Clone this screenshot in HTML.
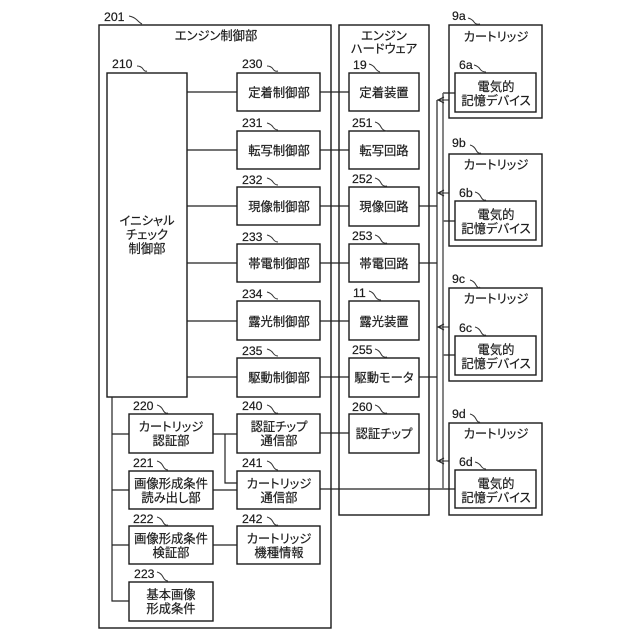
<!DOCTYPE html>
<html lang="ja">
<head>
<meta charset="utf-8">
<title>エンジン制御部</title>
<style>
html,body{margin:0;padding:0;background:#fff;}
svg{display:block;}
.b{fill:none;stroke:#1a1a1a;stroke-width:1.4;}
.l{fill:none;stroke:#222;stroke-width:1.2;}
.c{fill:none;stroke:#333;stroke-width:1;}
text{fill:#1c1c1c;stroke:#1c1c1c;stroke-width:.2;}
.j{font-family:"Liberation Sans","Noto Sans CJK JP",sans-serif;font-size:12.3px;text-anchor:middle;font-feature-settings:"palt";}
.n{font-family:"Liberation Sans",sans-serif;font-size:12.3px;}
</style>
</head>
<body>
<svg width="640" height="640" viewBox="0 0 640 640" xmlns="http://www.w3.org/2000/svg">
<rect width="640" height="640" fill="#fff"/>

<g class="b">
<rect x="99" y="25" width="232" height="603"/>
<rect x="339" y="25" width="90" height="490"/>
<rect x="107" y="73" width="80" height="324"/>

<rect x="237" y="73" width="83" height="38"/>
<rect x="237" y="131" width="83" height="38"/>
<rect x="237" y="187" width="83" height="38"/>
<rect x="237" y="244" width="83" height="38"/>
<rect x="237" y="301" width="83" height="39"/>
<rect x="237" y="358" width="83" height="39"/>
<rect x="237" y="414" width="83" height="39"/>
<rect x="237" y="471" width="83" height="38"/>
<rect x="237" y="526" width="83" height="38"/>

<rect x="129" y="414" width="84" height="39"/>
<rect x="129" y="471" width="84" height="38"/>
<rect x="129" y="526" width="84" height="38"/>
<rect x="129" y="582" width="84" height="39"/>

<rect x="349" y="73" width="70" height="38"/>
<rect x="349" y="131" width="70" height="38"/>
<rect x="349" y="187" width="70" height="39"/>
<rect x="349" y="244" width="70" height="38"/>
<rect x="349" y="301" width="70" height="39"/>
<rect x="349" y="358" width="70" height="39"/>
<rect x="349" y="414" width="70" height="39"/>

<rect x="449" y="25" width="93" height="93"/>
<rect x="449" y="154" width="93" height="92"/>
<rect x="449" y="288" width="93" height="93"/>
<rect x="449" y="423" width="93" height="92"/>
<rect x="455" y="73" width="81" height="39"/>
<rect x="455" y="201" width="81" height="39"/>
<rect x="455" y="336" width="81" height="39"/>
<rect x="455" y="470" width="81" height="38"/>
</g>

<g class="l">
<path d="M187 92H237M320 92H349"/>
<path d="M187 150H237M320 150H349"/>
<path d="M187 206H237M320 206H349M419 206H437"/>
<path d="M187 263H237M320 263H349M419 263H437"/>
<path d="M187 321H237M320 321H349"/>
<path d="M187 377H237M320 377H349M419 377H437"/>
<path d="M112 397V601H129M112 434H129M112 490H129M112 545H129"/>
<path d="M213 434H237M225 434V483H237M213 490H237M213 545H237"/>
<path d="M320 433H349M320 489H455"/>
<path d="M437 100V461"/>
<path d="M443 93H455M443 221H455M443 355H455"/>
</g>
<path d="M443 93V489" fill="none" stroke="#666" stroke-width="1.6"/>
<g fill="none" stroke="#222" stroke-width="1">
<path d="M449 100H437M444 97L438 100L444 103"/>
<path d="M449 193H437M444 190L438 193L444 196"/>
<path d="M449 327H437M444 324L438 327L444 330"/>
<path d="M449 461H437M444 458L438 461L444 464"/>
</g>

<g class="c">
<path d="M129 16Q134 17 137 20T142 24"/>
<path d="M137 66Q141 66 143 69T147 71"/>
<path d="M267 66Q271 66 273 69T278 71"/>
<path d="M267 123Q271 124 273 127T278 130"/>
<path d="M267 178Q271 179 273 182T278 185"/>
<path d="M267 235Q271 236 273 239T278 242"/>
<path d="M267 292Q271 293 273 296T278 299"/>
<path d="M267 349Q271 350 273 353T278 356"/>
<path d="M369 64Q373 65 375 68T380 72"/>
<path d="M375 122Q379 123 381 127T387 131"/>
<path d="M375 178Q379 179 381 183T387 186"/>
<path d="M375 235Q379 236 381 240T387 243"/>
<path d="M369 291Q373 292 375 296T381 300"/>
<path d="M375 349Q379 350 381 354T387 357"/>
<path d="M375 405Q379 406 381 410T387 413"/>
<path d="M468 18Q472 19 474 22T480 24"/>
<path d="M474 65Q478 66 480 69T486 72"/>
<path d="M470 145Q474 146 476 150T481 153"/>
<path d="M475 192Q479 193 481 197T486 200"/>
<path d="M470 280Q474 281 476 285T480 287"/>
<path d="M475 327Q479 328 481 332T486 335"/>
<path d="M470 414Q474 415 476 419T480 422"/>
<path d="M475 462Q479 463 481 466T486 469"/>
<path d="M157 405Q161 406 163 410T168 413"/>
<path d="M157 461Q161 462 163 466T168 470"/>
<path d="M157 517Q161 518 163 522T168 525"/>
<path d="M157 572Q161 573 163 577T168 581"/>
<path d="M267 405Q271 406 273 410T278 413"/>
<path d="M267 461Q271 462 273 466T278 470"/>
<path d="M267 517Q271 518 273 522T278 525"/>
</g>

<g class="n">
<text x="104" y="21">201</text>
<text x="112" y="68">210</text>
<text x="242" y="68">230</text>
<text x="242" y="127">231</text>
<text x="242" y="184">232</text>
<text x="242" y="241">233</text>
<text x="242" y="298">234</text>
<text x="242" y="355">235</text>
<text x="353" y="69">19</text>
<text x="352" y="127">251</text>
<text x="352" y="183">252</text>
<text x="352" y="240">253</text>
<text x="353" y="297">11</text>
<text x="352" y="354">255</text>
<text x="352" y="411">260</text>
<text x="452" y="20">9a</text>
<text x="459" y="69">6a</text>
<text x="452" y="147">9b</text>
<text x="459" y="197">6b</text>
<text x="452" y="283">9c</text>
<text x="459" y="332">6c</text>
<text x="452" y="418">9d</text>
<text x="459" y="466">6d</text>
<text x="133" y="410">220</text>
<text x="133" y="467">221</text>
<text x="133" y="523">222</text>
<text x="134" y="578">223</text>
<text x="242" y="410">240</text>
<text x="242" y="467">241</text>
<text x="242" y="523">242</text>
</g>

<g class="j">
<text x="216" y="40">エンジン制御部</text>
<text x="384" y="40">エンジン</text>
<text x="384" y="53">ハードウェア</text>
<text x="147" y="225">イニシャル</text>
<text x="147" y="239">チェック</text>
<text x="147" y="253">制御部</text>

<text x="279" y="97">定着制御部</text>
<text x="279" y="155">転写制御部</text>
<text x="279" y="211">現像制御部</text>
<text x="279" y="268">帯電制御部</text>
<text x="279" y="326">露光制御部</text>
<text x="279" y="382">駆動制御部</text>
<text x="279" y="431">認証チップ</text>
<text x="279" y="445">通信部</text>
<text x="279" y="488">カートリッジ</text>
<text x="279" y="502">通信部</text>
<text x="279" y="543">カートリッジ</text>
<text x="279" y="557">機種情報</text>

<text x="171" y="431">カートリッジ</text>
<text x="171" y="445">認証部</text>
<text x="171" y="488">画像形成条件</text>
<text x="171" y="502">読み出し部</text>
<text x="171" y="543">画像形成条件</text>
<text x="171" y="557">検証部</text>
<text x="171" y="599">基本画像</text>
<text x="171" y="613">形成条件</text>

<text x="384" y="97">定着装置</text>
<text x="384" y="155">転写回路</text>
<text x="384" y="211">現像回路</text>
<text x="384" y="268">帯電回路</text>
<text x="384" y="326">露光装置</text>
<text x="384" y="382">駆動モータ</text>
<text x="384" y="438">認証チップ</text>

<text x="496" y="41">カートリッジ</text>
<text x="496" y="169">カートリッジ</text>
<text x="496" y="303">カートリッジ</text>
<text x="496" y="438">カートリッジ</text>

<text x="496" y="91">電気的</text>
<text x="496" y="105">記憶デバイス</text>
<text x="496" y="219">電気的</text>
<text x="496" y="233">記憶デバイス</text>
<text x="496" y="354">電気的</text>
<text x="496" y="368">記憶デバイス</text>
<text x="496" y="488">電気的</text>
<text x="496" y="502">記憶デバイス</text>
</g>
</svg>
</body>
</html>
